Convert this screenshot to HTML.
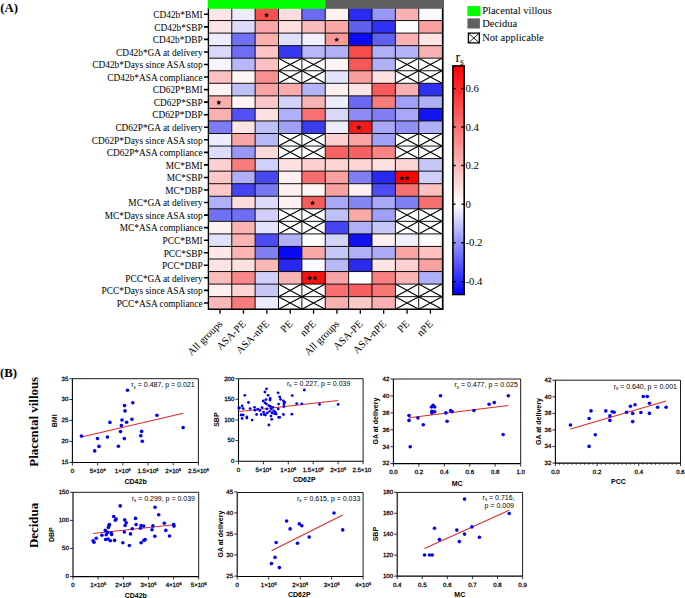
<!DOCTYPE html>
<html><head><meta charset="utf-8"><style>
html,body{margin:0;padding:0;background:#fff;}
body{width:685px;height:598px;overflow:hidden;font-family:"Liberation Sans", sans-serif;}
svg{display:block;}
.tl{text-rendering:geometricPrecision;}
</style></head><body>
<svg width="685" height="598" viewBox="0 0 685 598">
<rect width="685" height="598" fill="#fff"/>
<text x="0.3" y="11.8" font-family='"Liberation Serif", serif' font-weight="bold" font-size="12.8">(A)</text>
<rect x="208.40" y="8.00" width="23.37" height="12.55" fill="#fde6e6"/>
<rect x="231.77" y="8.00" width="23.37" height="12.55" fill="#ececfc"/>
<rect x="255.14" y="8.00" width="23.37" height="12.55" fill="#f84f4f"/>
<rect x="278.51" y="8.00" width="23.37" height="12.55" fill="#fcdcdc"/>
<rect x="301.88" y="8.00" width="23.37" height="12.55" fill="#6a6af5"/>
<rect x="325.25" y="8.00" width="23.37" height="12.55" fill="#fdf0f0"/>
<rect x="348.62" y="8.00" width="23.37" height="12.55" fill="#2a2af0"/>
<rect x="371.99" y="8.00" width="23.37" height="12.55" fill="#9898f8"/>
<rect x="395.36" y="8.00" width="23.37" height="12.55" fill="#f8b0b0"/>
<rect x="418.73" y="8.00" width="23.37" height="12.55" fill="#fafafe"/>
<rect x="208.40" y="20.55" width="23.37" height="12.55" fill="#fde4e4"/>
<rect x="231.77" y="20.55" width="23.37" height="12.55" fill="#dcdcfa"/>
<rect x="255.14" y="20.55" width="23.37" height="12.55" fill="#fba6a6"/>
<rect x="278.51" y="20.55" width="23.37" height="12.55" fill="#fde0e0"/>
<rect x="301.88" y="20.55" width="23.37" height="12.55" fill="#fbbcbc"/>
<rect x="325.25" y="20.55" width="23.37" height="12.55" fill="#f9a8a8"/>
<rect x="348.62" y="20.55" width="23.37" height="12.55" fill="#6060ee"/>
<rect x="371.99" y="20.55" width="23.37" height="12.55" fill="#3030f0"/>
<rect x="395.36" y="20.55" width="23.37" height="12.55" fill="#fefefe"/>
<rect x="418.73" y="20.55" width="23.37" height="12.55" fill="#f9a0a0"/>
<rect x="208.40" y="33.10" width="23.37" height="12.55" fill="#ececfc"/>
<rect x="231.77" y="33.10" width="23.37" height="12.55" fill="#7070f2"/>
<rect x="255.14" y="33.10" width="23.37" height="12.55" fill="#fbb0b0"/>
<rect x="278.51" y="33.10" width="23.37" height="12.55" fill="#e0e0fa"/>
<rect x="301.88" y="33.10" width="23.37" height="12.55" fill="#f0f0fc"/>
<rect x="325.25" y="33.10" width="23.37" height="12.55" fill="#f89898"/>
<rect x="348.62" y="33.10" width="23.37" height="12.55" fill="#0a0af5"/>
<rect x="371.99" y="33.10" width="23.37" height="12.55" fill="#6060f0"/>
<rect x="395.36" y="33.10" width="23.37" height="12.55" fill="#f9b0b0"/>
<rect x="418.73" y="33.10" width="23.37" height="12.55" fill="#fde4e4"/>
<rect x="208.40" y="45.65" width="23.37" height="12.55" fill="#d8d8fa"/>
<rect x="231.77" y="45.65" width="23.37" height="12.55" fill="#6e6ef2"/>
<rect x="255.14" y="45.65" width="23.37" height="12.55" fill="#fcc4c4"/>
<rect x="278.51" y="45.65" width="23.37" height="12.55" fill="#3838f0"/>
<rect x="301.88" y="45.65" width="23.37" height="12.55" fill="#b8b8f8"/>
<rect x="325.25" y="45.65" width="23.37" height="12.55" fill="#b0b0f8"/>
<rect x="348.62" y="45.65" width="23.37" height="12.55" fill="#f84c4c"/>
<rect x="371.99" y="45.65" width="23.37" height="12.55" fill="#b0b0f8"/>
<rect x="395.36" y="45.65" width="23.37" height="12.55" fill="#b4b4f8"/>
<rect x="418.73" y="45.65" width="23.37" height="12.55" fill="#f9b0b0"/>
<rect x="208.40" y="58.20" width="23.37" height="12.55" fill="#f6f6fe"/>
<rect x="231.77" y="58.20" width="23.37" height="12.55" fill="#b8b8f8"/>
<rect x="255.14" y="58.20" width="23.37" height="12.55" fill="#fcc0c0"/>
<rect x="278.51" y="58.20" width="23.37" height="12.55" fill="#fff"/>
<path d="M278.51 58.20L301.88 70.75M301.88 58.20L278.51 70.75" stroke="#000" stroke-width="1.1"/>
<rect x="301.88" y="58.20" width="23.37" height="12.55" fill="#fff"/>
<path d="M301.88 58.20L325.25 70.75M325.25 58.20L301.88 70.75" stroke="#000" stroke-width="1.1"/>
<rect x="325.25" y="58.20" width="23.37" height="12.55" fill="#fef4f4"/>
<rect x="348.62" y="58.20" width="23.37" height="12.55" fill="#f55858"/>
<rect x="371.99" y="58.20" width="23.37" height="12.55" fill="#b0b0f8"/>
<rect x="395.36" y="58.20" width="23.37" height="12.55" fill="#fff"/>
<path d="M395.36 58.20L418.73 70.75M418.73 58.20L395.36 70.75" stroke="#000" stroke-width="1.1"/>
<rect x="418.73" y="58.20" width="23.37" height="12.55" fill="#fff"/>
<path d="M418.73 58.20L442.10 70.75M442.10 58.20L418.73 70.75" stroke="#000" stroke-width="1.1"/>
<rect x="208.40" y="70.75" width="23.37" height="12.55" fill="#fcc0c0"/>
<rect x="231.77" y="70.75" width="23.37" height="12.55" fill="#fef4f4"/>
<rect x="255.14" y="70.75" width="23.37" height="12.55" fill="#f99090"/>
<rect x="278.51" y="70.75" width="23.37" height="12.55" fill="#fff"/>
<path d="M278.51 70.75L301.88 83.30M301.88 70.75L278.51 83.30" stroke="#000" stroke-width="1.1"/>
<rect x="301.88" y="70.75" width="23.37" height="12.55" fill="#fff"/>
<path d="M301.88 70.75L325.25 83.30M325.25 70.75L301.88 83.30" stroke="#000" stroke-width="1.1"/>
<rect x="325.25" y="70.75" width="23.37" height="12.55" fill="#e4e4fc"/>
<rect x="348.62" y="70.75" width="23.37" height="12.55" fill="#f8a0a0"/>
<rect x="371.99" y="70.75" width="23.37" height="12.55" fill="#fde0e0"/>
<rect x="395.36" y="70.75" width="23.37" height="12.55" fill="#fff"/>
<path d="M395.36 70.75L418.73 83.30M418.73 70.75L395.36 83.30" stroke="#000" stroke-width="1.1"/>
<rect x="418.73" y="70.75" width="23.37" height="12.55" fill="#fff"/>
<path d="M418.73 70.75L442.10 83.30M442.10 70.75L418.73 83.30" stroke="#000" stroke-width="1.1"/>
<rect x="208.40" y="83.30" width="23.37" height="12.55" fill="#fef2f2"/>
<rect x="231.77" y="83.30" width="23.37" height="12.55" fill="#c0c0f8"/>
<rect x="255.14" y="83.30" width="23.37" height="12.55" fill="#f9a4a4"/>
<rect x="278.51" y="83.30" width="23.37" height="12.55" fill="#f9acac"/>
<rect x="301.88" y="83.30" width="23.37" height="12.55" fill="#b4b4f8"/>
<rect x="325.25" y="83.30" width="23.37" height="12.55" fill="#fef0f0"/>
<rect x="348.62" y="83.30" width="23.37" height="12.55" fill="#fde4e4"/>
<rect x="371.99" y="83.30" width="23.37" height="12.55" fill="#f65a5a"/>
<rect x="395.36" y="83.30" width="23.37" height="12.55" fill="#f9b0b0"/>
<rect x="418.73" y="83.30" width="23.37" height="12.55" fill="#3030f0"/>
<rect x="208.40" y="95.85" width="23.37" height="12.55" fill="#f9b0b0"/>
<rect x="231.77" y="95.85" width="23.37" height="12.55" fill="#fef4f4"/>
<rect x="255.14" y="95.85" width="23.37" height="12.55" fill="#fcc8c8"/>
<rect x="278.51" y="95.85" width="23.37" height="12.55" fill="#d4d4fa"/>
<rect x="301.88" y="95.85" width="23.37" height="12.55" fill="#fab4b4"/>
<rect x="325.25" y="95.85" width="23.37" height="12.55" fill="#ececfc"/>
<rect x="348.62" y="95.85" width="23.37" height="12.55" fill="#6a6af2"/>
<rect x="371.99" y="95.85" width="23.37" height="12.55" fill="#f77c7c"/>
<rect x="395.36" y="95.85" width="23.37" height="12.55" fill="#a0a0f6"/>
<rect x="418.73" y="95.85" width="23.37" height="12.55" fill="#b0b0f8"/>
<rect x="208.40" y="108.40" width="23.37" height="12.55" fill="#f9b0b0"/>
<rect x="231.77" y="108.40" width="23.37" height="12.55" fill="#5050f4"/>
<rect x="255.14" y="108.40" width="23.37" height="12.55" fill="#fde0e0"/>
<rect x="278.51" y="108.40" width="23.37" height="12.55" fill="#b0b0f8"/>
<rect x="301.88" y="108.40" width="23.37" height="12.55" fill="#f87070"/>
<rect x="325.25" y="108.40" width="23.37" height="12.55" fill="#d8d8fa"/>
<rect x="348.62" y="108.40" width="23.37" height="12.55" fill="#8c8cf4"/>
<rect x="371.99" y="108.40" width="23.37" height="12.55" fill="#8080f4"/>
<rect x="395.36" y="108.40" width="23.37" height="12.55" fill="#a8a8f6"/>
<rect x="418.73" y="108.40" width="23.37" height="12.55" fill="#1414f2"/>
<rect x="208.40" y="120.95" width="23.37" height="12.55" fill="#7c7cf4"/>
<rect x="231.77" y="120.95" width="23.37" height="12.55" fill="#fde4e4"/>
<rect x="255.14" y="120.95" width="23.37" height="12.55" fill="#c0c0f8"/>
<rect x="278.51" y="120.95" width="23.37" height="12.55" fill="#a0a0f6"/>
<rect x="301.88" y="120.95" width="23.37" height="12.55" fill="#3c3cf0"/>
<rect x="325.25" y="120.95" width="23.37" height="12.55" fill="#ececfc"/>
<rect x="348.62" y="120.95" width="23.37" height="12.55" fill="#f21c1c"/>
<rect x="371.99" y="120.95" width="23.37" height="12.55" fill="#a8a8f6"/>
<rect x="395.36" y="120.95" width="23.37" height="12.55" fill="#9090f4"/>
<rect x="418.73" y="120.95" width="23.37" height="12.55" fill="#b0b0f8"/>
<rect x="208.40" y="133.50" width="23.37" height="12.55" fill="#ececfc"/>
<rect x="231.77" y="133.50" width="23.37" height="12.55" fill="#f9a4a4"/>
<rect x="255.14" y="133.50" width="23.37" height="12.55" fill="#b8b8f8"/>
<rect x="278.51" y="133.50" width="23.37" height="12.55" fill="#fff"/>
<path d="M278.51 133.50L301.88 146.05M301.88 133.50L278.51 146.05" stroke="#000" stroke-width="1.1"/>
<rect x="301.88" y="133.50" width="23.37" height="12.55" fill="#fff"/>
<path d="M301.88 133.50L325.25 146.05M325.25 133.50L301.88 146.05" stroke="#000" stroke-width="1.1"/>
<rect x="325.25" y="133.50" width="23.37" height="12.55" fill="#fcd0d0"/>
<rect x="348.62" y="133.50" width="23.37" height="12.55" fill="#f9a4a4"/>
<rect x="371.99" y="133.50" width="23.37" height="12.55" fill="#a0a0f6"/>
<rect x="395.36" y="133.50" width="23.37" height="12.55" fill="#fff"/>
<path d="M395.36 133.50L418.73 146.05M418.73 133.50L395.36 146.05" stroke="#000" stroke-width="1.1"/>
<rect x="418.73" y="133.50" width="23.37" height="12.55" fill="#fff"/>
<path d="M418.73 133.50L442.10 146.05M442.10 133.50L418.73 146.05" stroke="#000" stroke-width="1.1"/>
<rect x="208.40" y="146.05" width="23.37" height="12.55" fill="#dcdcfa"/>
<rect x="231.77" y="146.05" width="23.37" height="12.55" fill="#9898f4"/>
<rect x="255.14" y="146.05" width="23.37" height="12.55" fill="#fcd8d8"/>
<rect x="278.51" y="146.05" width="23.37" height="12.55" fill="#fff"/>
<path d="M278.51 146.05L301.88 158.60M301.88 146.05L278.51 158.60" stroke="#000" stroke-width="1.1"/>
<rect x="301.88" y="146.05" width="23.37" height="12.55" fill="#fff"/>
<path d="M301.88 146.05L325.25 158.60M325.25 146.05L301.88 158.60" stroke="#000" stroke-width="1.1"/>
<rect x="325.25" y="146.05" width="23.37" height="12.55" fill="#f96262"/>
<rect x="348.62" y="146.05" width="23.37" height="12.55" fill="#f96262"/>
<rect x="371.99" y="146.05" width="23.37" height="12.55" fill="#f88484"/>
<rect x="395.36" y="146.05" width="23.37" height="12.55" fill="#fff"/>
<path d="M395.36 146.05L418.73 158.60M418.73 146.05L395.36 158.60" stroke="#000" stroke-width="1.1"/>
<rect x="418.73" y="146.05" width="23.37" height="12.55" fill="#fff"/>
<path d="M418.73 146.05L442.10 158.60M442.10 146.05L418.73 158.60" stroke="#000" stroke-width="1.1"/>
<rect x="208.40" y="158.60" width="23.37" height="12.55" fill="#fcd0d0"/>
<rect x="231.77" y="158.60" width="23.37" height="12.55" fill="#f77c7c"/>
<rect x="255.14" y="158.60" width="23.37" height="12.55" fill="#d0d0fa"/>
<rect x="278.51" y="158.60" width="23.37" height="12.55" fill="#fde0e0"/>
<rect x="301.88" y="158.60" width="23.37" height="12.55" fill="#fcd0d0"/>
<rect x="325.25" y="158.60" width="23.37" height="12.55" fill="#fcd4d4"/>
<rect x="348.62" y="158.60" width="23.37" height="12.55" fill="#fcd4d4"/>
<rect x="371.99" y="158.60" width="23.37" height="12.55" fill="#fde0e0"/>
<rect x="395.36" y="158.60" width="23.37" height="12.55" fill="#fcd4d4"/>
<rect x="418.73" y="158.60" width="23.37" height="12.55" fill="#c8c8f8"/>
<rect x="208.40" y="171.15" width="23.37" height="12.55" fill="#fcc8c8"/>
<rect x="231.77" y="171.15" width="23.37" height="12.55" fill="#b0b0f8"/>
<rect x="255.14" y="171.15" width="23.37" height="12.55" fill="#4848f0"/>
<rect x="278.51" y="171.15" width="23.37" height="12.55" fill="#fef0f0"/>
<rect x="301.88" y="171.15" width="23.37" height="12.55" fill="#f86e6e"/>
<rect x="325.25" y="171.15" width="23.37" height="12.55" fill="#f9a0a0"/>
<rect x="348.62" y="171.15" width="23.37" height="12.55" fill="#8080f4"/>
<rect x="371.99" y="171.15" width="23.37" height="12.55" fill="#2828f2"/>
<rect x="395.36" y="171.15" width="23.37" height="12.55" fill="#fe0202"/>
<rect x="418.73" y="171.15" width="23.37" height="12.55" fill="#d0d0fa"/>
<rect x="208.40" y="183.70" width="23.37" height="12.55" fill="#fcc8c8"/>
<rect x="231.77" y="183.70" width="23.37" height="12.55" fill="#4444f0"/>
<rect x="255.14" y="183.70" width="23.37" height="12.55" fill="#7878f2"/>
<rect x="278.51" y="183.70" width="23.37" height="12.55" fill="#fef0f0"/>
<rect x="301.88" y="183.70" width="23.37" height="12.55" fill="#fef4f4"/>
<rect x="325.25" y="183.70" width="23.37" height="12.55" fill="#f9a0a0"/>
<rect x="348.62" y="183.70" width="23.37" height="12.55" fill="#fef0f0"/>
<rect x="371.99" y="183.70" width="23.37" height="12.55" fill="#4c4cf0"/>
<rect x="395.36" y="183.70" width="23.37" height="12.55" fill="#f77070"/>
<rect x="418.73" y="183.70" width="23.37" height="12.55" fill="#fcc0c0"/>
<rect x="208.40" y="196.25" width="23.37" height="12.55" fill="#b0b0f8"/>
<rect x="231.77" y="196.25" width="23.37" height="12.55" fill="#fddcdc"/>
<rect x="255.14" y="196.25" width="23.37" height="12.55" fill="#dcdcfa"/>
<rect x="278.51" y="196.25" width="23.37" height="12.55" fill="#fef0f0"/>
<rect x="301.88" y="196.25" width="23.37" height="12.55" fill="#f65c5c"/>
<rect x="325.25" y="196.25" width="23.37" height="12.55" fill="#a8a8f6"/>
<rect x="348.62" y="196.25" width="23.37" height="12.55" fill="#8484f4"/>
<rect x="371.99" y="196.25" width="23.37" height="12.55" fill="#a8a8f6"/>
<rect x="395.36" y="196.25" width="23.37" height="12.55" fill="#8080f4"/>
<rect x="418.73" y="196.25" width="23.37" height="12.55" fill="#f77070"/>
<rect x="208.40" y="208.80" width="23.37" height="12.55" fill="#7070f4"/>
<rect x="231.77" y="208.80" width="23.37" height="12.55" fill="#6e6ef4"/>
<rect x="255.14" y="208.80" width="23.37" height="12.55" fill="#d0d0fa"/>
<rect x="278.51" y="208.80" width="23.37" height="12.55" fill="#fff"/>
<path d="M278.51 208.80L301.88 221.35M301.88 208.80L278.51 221.35" stroke="#000" stroke-width="1.1"/>
<rect x="301.88" y="208.80" width="23.37" height="12.55" fill="#fff"/>
<path d="M301.88 208.80L325.25 221.35M325.25 208.80L301.88 221.35" stroke="#000" stroke-width="1.1"/>
<rect x="325.25" y="208.80" width="23.37" height="12.55" fill="#c0c0f8"/>
<rect x="348.62" y="208.80" width="23.37" height="12.55" fill="#f9a8a8"/>
<rect x="371.99" y="208.80" width="23.37" height="12.55" fill="#a0a0f6"/>
<rect x="395.36" y="208.80" width="23.37" height="12.55" fill="#fff"/>
<path d="M395.36 208.80L418.73 221.35M418.73 208.80L395.36 221.35" stroke="#000" stroke-width="1.1"/>
<rect x="418.73" y="208.80" width="23.37" height="12.55" fill="#fff"/>
<path d="M418.73 208.80L442.10 221.35M442.10 208.80L418.73 221.35" stroke="#000" stroke-width="1.1"/>
<rect x="208.40" y="221.35" width="23.37" height="12.55" fill="#fef0f0"/>
<rect x="231.77" y="221.35" width="23.37" height="12.55" fill="#fab4b4"/>
<rect x="255.14" y="221.35" width="23.37" height="12.55" fill="#e4e4fc"/>
<rect x="278.51" y="221.35" width="23.37" height="12.55" fill="#fff"/>
<path d="M278.51 221.35L301.88 233.90M301.88 221.35L278.51 233.90" stroke="#000" stroke-width="1.1"/>
<rect x="301.88" y="221.35" width="23.37" height="12.55" fill="#fff"/>
<path d="M301.88 221.35L325.25 233.90M325.25 221.35L301.88 233.90" stroke="#000" stroke-width="1.1"/>
<rect x="325.25" y="221.35" width="23.37" height="12.55" fill="#4444f0"/>
<rect x="348.62" y="221.35" width="23.37" height="12.55" fill="#b0b0f8"/>
<rect x="371.99" y="221.35" width="23.37" height="12.55" fill="#c8c8f8"/>
<rect x="395.36" y="221.35" width="23.37" height="12.55" fill="#fff"/>
<path d="M395.36 221.35L418.73 233.90M418.73 221.35L395.36 233.90" stroke="#000" stroke-width="1.1"/>
<rect x="418.73" y="221.35" width="23.37" height="12.55" fill="#fff"/>
<path d="M418.73 221.35L442.10 233.90M442.10 221.35L418.73 233.90" stroke="#000" stroke-width="1.1"/>
<rect x="208.40" y="233.90" width="23.37" height="12.55" fill="#e0e0fa"/>
<rect x="231.77" y="233.90" width="23.37" height="12.55" fill="#fbb4b4"/>
<rect x="255.14" y="233.90" width="23.37" height="12.55" fill="#4c4cf4"/>
<rect x="278.51" y="233.90" width="23.37" height="12.55" fill="#b0b0f8"/>
<rect x="301.88" y="233.90" width="23.37" height="12.55" fill="#ffffff"/>
<rect x="325.25" y="233.90" width="23.37" height="12.55" fill="#d4d4fa"/>
<rect x="348.62" y="233.90" width="23.37" height="12.55" fill="#1010f2"/>
<rect x="371.99" y="233.90" width="23.37" height="12.55" fill="#fef0f0"/>
<rect x="395.36" y="233.90" width="23.37" height="12.55" fill="#f0f0fc"/>
<rect x="418.73" y="233.90" width="23.37" height="12.55" fill="#fefafa"/>
<rect x="208.40" y="246.45" width="23.37" height="12.55" fill="#fde8e8"/>
<rect x="231.77" y="246.45" width="23.37" height="12.55" fill="#fbb4b4"/>
<rect x="255.14" y="246.45" width="23.37" height="12.55" fill="#8080f4"/>
<rect x="278.51" y="246.45" width="23.37" height="12.55" fill="#0808f5"/>
<rect x="301.88" y="246.45" width="23.37" height="12.55" fill="#fba8a8"/>
<rect x="325.25" y="246.45" width="23.37" height="12.55" fill="#c8c8f8"/>
<rect x="348.62" y="246.45" width="23.37" height="12.55" fill="#b0b0f8"/>
<rect x="371.99" y="246.45" width="23.37" height="12.55" fill="#acacf8"/>
<rect x="395.36" y="246.45" width="23.37" height="12.55" fill="#f9a4a4"/>
<rect x="418.73" y="246.45" width="23.37" height="12.55" fill="#fcc0c0"/>
<rect x="208.40" y="259.00" width="23.37" height="12.55" fill="#fde4e4"/>
<rect x="231.77" y="259.00" width="23.37" height="12.55" fill="#fde0e0"/>
<rect x="255.14" y="259.00" width="23.37" height="12.55" fill="#fbb8b8"/>
<rect x="278.51" y="259.00" width="23.37" height="12.55" fill="#2828f2"/>
<rect x="301.88" y="259.00" width="23.37" height="12.55" fill="#f8f8fe"/>
<rect x="325.25" y="259.00" width="23.37" height="12.55" fill="#b8b8f8"/>
<rect x="348.62" y="259.00" width="23.37" height="12.55" fill="#2c2cf0"/>
<rect x="371.99" y="259.00" width="23.37" height="12.55" fill="#fde4e4"/>
<rect x="395.36" y="259.00" width="23.37" height="12.55" fill="#fcd0d0"/>
<rect x="418.73" y="259.00" width="23.37" height="12.55" fill="#f9a0a0"/>
<rect x="208.40" y="271.55" width="23.37" height="12.55" fill="#fbbcbc"/>
<rect x="231.77" y="271.55" width="23.37" height="12.55" fill="#f88888"/>
<rect x="255.14" y="271.55" width="23.37" height="12.55" fill="#d0d0fa"/>
<rect x="278.51" y="271.55" width="23.37" height="12.55" fill="#fbb4b4"/>
<rect x="301.88" y="271.55" width="23.37" height="12.55" fill="#f41414"/>
<rect x="325.25" y="271.55" width="23.37" height="12.55" fill="#f9a4a4"/>
<rect x="348.62" y="271.55" width="23.37" height="12.55" fill="#ffffff"/>
<rect x="371.99" y="271.55" width="23.37" height="12.55" fill="#f78080"/>
<rect x="395.36" y="271.55" width="23.37" height="12.55" fill="#fbb4b4"/>
<rect x="418.73" y="271.55" width="23.37" height="12.55" fill="#b0b0f8"/>
<rect x="208.40" y="284.10" width="23.37" height="12.55" fill="#fef0f0"/>
<rect x="231.77" y="284.10" width="23.37" height="12.55" fill="#fcd4d4"/>
<rect x="255.14" y="284.10" width="23.37" height="12.55" fill="#c8c8f8"/>
<rect x="278.51" y="284.10" width="23.37" height="12.55" fill="#fff"/>
<path d="M278.51 284.10L301.88 296.65M301.88 284.10L278.51 296.65" stroke="#000" stroke-width="1.1"/>
<rect x="301.88" y="284.10" width="23.37" height="12.55" fill="#fff"/>
<path d="M301.88 284.10L325.25 296.65M325.25 284.10L301.88 296.65" stroke="#000" stroke-width="1.1"/>
<rect x="325.25" y="284.10" width="23.37" height="12.55" fill="#f86e6e"/>
<rect x="348.62" y="284.10" width="23.37" height="12.55" fill="#f86060"/>
<rect x="371.99" y="284.10" width="23.37" height="12.55" fill="#f87676"/>
<rect x="395.36" y="284.10" width="23.37" height="12.55" fill="#fff"/>
<path d="M395.36 284.10L418.73 296.65M418.73 284.10L395.36 296.65" stroke="#000" stroke-width="1.1"/>
<rect x="418.73" y="284.10" width="23.37" height="12.55" fill="#fff"/>
<path d="M418.73 284.10L442.10 296.65M442.10 284.10L418.73 296.65" stroke="#000" stroke-width="1.1"/>
<rect x="208.40" y="296.65" width="23.37" height="12.55" fill="#fbb8b8"/>
<rect x="231.77" y="296.65" width="23.37" height="12.55" fill="#f77c7c"/>
<rect x="255.14" y="296.65" width="23.37" height="12.55" fill="#ececfc"/>
<rect x="278.51" y="296.65" width="23.37" height="12.55" fill="#fff"/>
<path d="M278.51 296.65L301.88 309.20M301.88 296.65L278.51 309.20" stroke="#000" stroke-width="1.1"/>
<rect x="301.88" y="296.65" width="23.37" height="12.55" fill="#fff"/>
<path d="M301.88 296.65L325.25 309.20M325.25 296.65L301.88 309.20" stroke="#000" stroke-width="1.1"/>
<rect x="325.25" y="296.65" width="23.37" height="12.55" fill="#fbb0b0"/>
<rect x="348.62" y="296.65" width="23.37" height="12.55" fill="#fcc8c8"/>
<rect x="371.99" y="296.65" width="23.37" height="12.55" fill="#fab0b0"/>
<rect x="395.36" y="296.65" width="23.37" height="12.55" fill="#fff"/>
<path d="M395.36 296.65L418.73 309.20M418.73 296.65L395.36 309.20" stroke="#000" stroke-width="1.1"/>
<rect x="418.73" y="296.65" width="23.37" height="12.55" fill="#fff"/>
<path d="M418.73 296.65L442.10 309.20M442.10 296.65L418.73 309.20" stroke="#000" stroke-width="1.1"/>
<path d="M208.40 20.55H442.10M208.40 33.10H442.10M208.40 45.65H442.10M208.40 58.20H442.10M208.40 70.75H442.10M208.40 83.30H442.10M208.40 95.85H442.10M208.40 108.40H442.10M208.40 120.95H442.10M208.40 133.50H442.10M208.40 146.05H442.10M208.40 158.60H442.10M208.40 171.15H442.10M208.40 183.70H442.10M208.40 196.25H442.10M208.40 208.80H442.10M208.40 221.35H442.10M208.40 233.90H442.10M208.40 246.45H442.10M208.40 259.00H442.10M208.40 271.55H442.10M208.40 284.10H442.10M208.40 296.65H442.10M231.77 8.00V309.20M255.14 8.00V309.20M278.51 8.00V309.20M301.88 8.00V309.20M325.25 8.00V309.20M348.62 8.00V309.20M371.99 8.00V309.20M395.36 8.00V309.20M418.73 8.00V309.20" stroke="#000" stroke-width="0.95" fill="none"/>
<path d="M208.40 8.00V309.20H442.10" stroke="#000" stroke-width="1.35" fill="none"/>
<path d="M442.75 8.00V309.90" stroke="#000" stroke-width="1.7" fill="none"/>
<polygon points="266.50,12.54 267.26,14.04 268.93,14.30 267.74,15.49 268.00,17.15 266.50,16.39 265.00,17.15 265.26,15.49 264.07,14.30 265.74,14.04" fill="#000"/>
<polygon points="336.70,37.19 337.46,38.69 339.13,38.95 337.94,40.14 338.20,41.80 336.70,41.04 335.20,41.80 335.46,40.14 334.27,38.95 335.94,38.69" fill="#000"/>
<polygon points="218.80,100.09 219.56,101.59 221.23,101.85 220.04,103.04 220.30,104.70 218.80,103.94 217.30,104.70 217.56,103.04 216.37,101.85 218.04,101.59" fill="#000"/>
<polygon points="358.90,125.09 359.66,126.59 361.33,126.85 360.14,128.04 360.40,129.70 358.90,128.94 357.40,129.70 357.66,128.04 356.47,126.85 358.14,126.59" fill="#000"/>
<polygon points="401.90,175.59 402.66,177.09 404.33,177.35 403.14,178.54 403.40,180.20 401.90,179.44 400.40,180.20 400.66,178.54 399.47,177.35 401.14,177.09" fill="#000"/>
<polygon points="407.00,175.59 407.76,177.09 409.43,177.35 408.24,178.54 408.50,180.20 407.00,179.44 405.50,180.20 405.76,178.54 404.57,177.35 406.24,177.09" fill="#000"/>
<polygon points="312.60,200.39 313.36,201.89 315.03,202.15 313.84,203.34 314.10,205.00 312.60,204.24 311.10,205.00 311.36,203.34 310.17,202.15 311.84,201.89" fill="#000"/>
<polygon points="309.70,275.49 310.46,276.99 312.13,277.25 310.94,278.44 311.20,280.10 309.70,279.34 308.20,280.10 308.46,278.44 307.27,277.25 308.94,276.99" fill="#000"/>
<polygon points="315.00,275.39 315.76,276.89 317.43,277.15 316.24,278.34 316.50,280.00 315.00,279.24 313.50,280.00 313.76,278.34 312.57,277.15 314.24,276.89" fill="#000"/>
<rect x="207.7" y="0" width="117.50" height="8.8" fill="#00ff00"/>
<rect x="325.2" y="0" width="118.80" height="8.8" fill="#606060"/>
<text x="202.6" y="18.07" font-family='"Liberation Serif", serif' font-size="9.35" text-anchor="end">CD42b*BMI</text>
<text x="202.6" y="30.63" font-family='"Liberation Serif", serif' font-size="9.35" text-anchor="end">CD42b*SBP</text>
<text x="202.6" y="43.17" font-family='"Liberation Serif", serif' font-size="9.35" text-anchor="end">CD42b*DBP</text>
<text x="202.6" y="55.73" font-family='"Liberation Serif", serif' font-size="9.35" text-anchor="end">CD42b*GA at delivery</text>
<text x="202.6" y="68.28" font-family='"Liberation Serif", serif' font-size="9.35" text-anchor="end">CD42b*Days since ASA stop</text>
<text x="202.6" y="80.83" font-family='"Liberation Serif", serif' font-size="9.35" text-anchor="end">CD42b*ASA compliance</text>
<text x="202.6" y="93.38" font-family='"Liberation Serif", serif' font-size="9.35" text-anchor="end">CD62P*BMI</text>
<text x="202.6" y="105.93" font-family='"Liberation Serif", serif' font-size="9.35" text-anchor="end">CD62P*SBP</text>
<text x="202.6" y="118.48" font-family='"Liberation Serif", serif' font-size="9.35" text-anchor="end">CD62P*DBP</text>
<text x="202.6" y="131.03" font-family='"Liberation Serif", serif' font-size="9.35" text-anchor="end">CD62P*GA at delivery</text>
<text x="202.6" y="143.58" font-family='"Liberation Serif", serif' font-size="9.35" text-anchor="end">CD62P*Days since ASA stop</text>
<text x="202.6" y="156.13" font-family='"Liberation Serif", serif' font-size="9.35" text-anchor="end">CD62P*ASA compliance</text>
<text x="202.6" y="168.68" font-family='"Liberation Serif", serif' font-size="9.35" text-anchor="end">MC*BMI</text>
<text x="202.6" y="181.23" font-family='"Liberation Serif", serif' font-size="9.35" text-anchor="end">MC*SBP</text>
<text x="202.6" y="193.78" font-family='"Liberation Serif", serif' font-size="9.35" text-anchor="end">MC*DBP</text>
<text x="202.6" y="206.33" font-family='"Liberation Serif", serif' font-size="9.35" text-anchor="end">MC*GA at delivery</text>
<text x="202.6" y="218.88" font-family='"Liberation Serif", serif' font-size="9.35" text-anchor="end">MC*Days since ASA stop</text>
<text x="202.6" y="231.43" font-family='"Liberation Serif", serif' font-size="9.35" text-anchor="end">MC*ASA compliance</text>
<text x="202.6" y="243.98" font-family='"Liberation Serif", serif' font-size="9.35" text-anchor="end">PCC*BMI</text>
<text x="202.6" y="256.53" font-family='"Liberation Serif", serif' font-size="9.35" text-anchor="end">PCC*SBP</text>
<text x="202.6" y="269.07" font-family='"Liberation Serif", serif' font-size="9.35" text-anchor="end">PCC*DBP</text>
<text x="202.6" y="281.62" font-family='"Liberation Serif", serif' font-size="9.35" text-anchor="end">PCC*GA at delivery</text>
<text x="202.6" y="294.18" font-family='"Liberation Serif", serif' font-size="9.35" text-anchor="end">PCC*Days since ASA stop</text>
<text x="202.6" y="306.73" font-family='"Liberation Serif", serif' font-size="9.35" text-anchor="end">PCC*ASA compliance</text>
<text transform="translate(223.09,324.5) rotate(-45)" font-family='"Liberation Serif", serif' font-size="10.5" text-anchor="end">All groups</text>
<text transform="translate(246.46,324.5) rotate(-45)" font-family='"Liberation Serif", serif' font-size="10.5" text-anchor="end">ASA-PE</text>
<text transform="translate(269.82,324.5) rotate(-45)" font-family='"Liberation Serif", serif' font-size="10.5" text-anchor="end">ASA-nPE</text>
<text transform="translate(293.19,324.5) rotate(-45)" font-family='"Liberation Serif", serif' font-size="10.5" text-anchor="end">PE</text>
<text transform="translate(316.56,324.5) rotate(-45)" font-family='"Liberation Serif", serif' font-size="10.5" text-anchor="end">nPE</text>
<text transform="translate(339.94,324.5) rotate(-45)" font-family='"Liberation Serif", serif' font-size="10.5" text-anchor="end">All groups</text>
<text transform="translate(363.31,324.5) rotate(-45)" font-family='"Liberation Serif", serif' font-size="10.5" text-anchor="end">ASA-PE</text>
<text transform="translate(386.68,324.5) rotate(-45)" font-family='"Liberation Serif", serif' font-size="10.5" text-anchor="end">ASA-nPE</text>
<text transform="translate(410.05,324.5) rotate(-45)" font-family='"Liberation Serif", serif' font-size="10.5" text-anchor="end">PE</text>
<text transform="translate(433.42,324.5) rotate(-45)" font-family='"Liberation Serif", serif' font-size="10.5" text-anchor="end">nPE</text>
<path d="M204.0 14.28H208.40M204.0 26.83H208.40M204.0 39.38H208.40M204.0 51.93H208.40M204.0 64.48H208.40M204.0 77.03H208.40M204.0 89.58H208.40M204.0 102.13H208.40M204.0 114.68H208.40M204.0 127.23H208.40M204.0 139.78H208.40M204.0 152.33H208.40M204.0 164.88H208.40M204.0 177.43H208.40M204.0 189.98H208.40M204.0 202.53H208.40M204.0 215.08H208.40M204.0 227.63H208.40M204.0 240.18H208.40M204.0 252.73H208.40M204.0 265.27H208.40M204.0 277.82H208.40M204.0 290.38H208.40M204.0 302.93H208.40" stroke="#000" stroke-width="1.6" fill="none"/>
<path d="M220.09 309.20V313.70M243.46 309.20V313.70M266.82 309.20V313.70M290.19 309.20V313.70M313.56 309.20V313.70M336.94 309.20V313.70M360.31 309.20V313.70M383.68 309.20V313.70M407.05 309.20V313.70M430.42 309.20V313.70" stroke="#000" stroke-width="1.3" fill="none"/>
<rect x="467.4" y="6.1" width="13" height="10" fill="#00ff00"/>
<rect x="467.4" y="18.4" width="12.5" height="10.1" fill="#606060"/>
<rect x="468.4" y="33.1" width="10.9" height="9.8" fill="#fff" stroke="#000" stroke-width="1.3"/>
<path d="M468.4 33.1L479.3 42.9M479.3 33.1L468.4 42.9" stroke="#000" stroke-width="0.9"/>
<text x="482.2" y="13.6" font-family='"Liberation Serif", serif' font-size="10.5">Placental villous</text>
<text x="482.2" y="26.5" font-family='"Liberation Serif", serif' font-size="10.5">Decidua</text>
<text x="482.2" y="41.2" font-family='"Liberation Serif", serif' font-size="10.5">Not applicable</text>
<defs><linearGradient id="cb" x1="0" y1="0" x2="0" y2="1"><stop offset="0" stop-color="#ff0000"/><stop offset="0.604" stop-color="#ffffff"/><stop offset="1" stop-color="#0000ff"/></linearGradient></defs>
<rect x="452.9" y="65.9" width="11.3" height="228.6" fill="url(#cb)" stroke="#000" stroke-width="1.6"/>
<text x="455.4" y="62.0" font-family='"Liberation Serif", serif' font-size="14">r<tspan font-size="9.5" dy="2.8">s</tspan></text>
<text x="465.4" y="92.10" font-family='"Liberation Serif", serif' font-size="10.8">0.6</text>
<text x="465.4" y="130.50" font-family='"Liberation Serif", serif' font-size="10.8">0.4</text>
<text x="465.4" y="169.00" font-family='"Liberation Serif", serif' font-size="10.8">0.2</text>
<text x="465.4" y="207.60" font-family='"Liberation Serif", serif' font-size="10.8">0</text>
<text x="465.4" y="246.30" font-family='"Liberation Serif", serif' font-size="10.8">-0.2</text>
<text x="465.4" y="285.10" font-family='"Liberation Serif", serif' font-size="10.8">-0.4</text>
<path d="M452.6 88.60h3M464.3 88.60h-3M452.6 127.00h3M464.3 127.00h-3M452.6 165.50h3M464.3 165.50h-3M452.6 204.10h3M464.3 204.10h-3M452.6 242.80h3M464.3 242.80h-3M452.6 281.60h3M464.3 281.60h-3" stroke="#000" stroke-width="1.4"/>
<text x="0" y="376.7" font-family='"Liberation Serif", serif' font-weight="bold" font-size="12.8">(B)</text>
<text transform="translate(38.1,421.8) rotate(-90)" text-anchor="middle" font-family='"Liberation Serif", serif' font-weight="bold" font-size="12.9">Placental villous</text>
<text transform="translate(37.7,525.4) rotate(-90)" text-anchor="middle" font-family='"Liberation Serif", serif' font-weight="bold" font-size="12.9">Decidua</text>
<path d="M72.4 378.7H198.4V462.5" stroke="#000" stroke-width="0.9" fill="none"/>
<path d="M72.4 378.7V462.5H198.4" stroke="#000" stroke-width="1.1" fill="none"/>
<text x="68.30" y="380.50" font-family='"Liberation Sans", sans-serif' font-size="6.1" stroke="#000" stroke-width="0.25" class="tl" text-anchor="end">35</text>
<text x="68.30" y="401.30" font-family='"Liberation Sans", sans-serif' font-size="6.1" stroke="#000" stroke-width="0.25" class="tl" text-anchor="end">30</text>
<text x="68.30" y="422.20" font-family='"Liberation Sans", sans-serif' font-size="6.1" stroke="#000" stroke-width="0.25" class="tl" text-anchor="end">25</text>
<text x="68.30" y="443.20" font-family='"Liberation Sans", sans-serif' font-size="6.1" stroke="#000" stroke-width="0.25" class="tl" text-anchor="end">20</text>
<text x="68.30" y="464.30" font-family='"Liberation Sans", sans-serif' font-size="6.1" stroke="#000" stroke-width="0.25" class="tl" text-anchor="end">15</text>
<text x="72.40" y="473.10" font-family='"Liberation Sans", sans-serif' font-size="6.1" stroke="#000" stroke-width="0.25" class="tl" text-anchor="middle">0</text>
<text x="97.60" y="473.10" font-family='"Liberation Sans", sans-serif' font-size="6.1" stroke="#000" stroke-width="0.25" class="tl" text-anchor="middle">5×10<tspan font-size="3.8" dy="-1.9">4</tspan></text>
<text x="122.80" y="473.10" font-family='"Liberation Sans", sans-serif' font-size="6.1" stroke="#000" stroke-width="0.25" class="tl" text-anchor="middle">1×10<tspan font-size="3.8" dy="-1.9">5</tspan></text>
<text x="148.00" y="473.10" font-family='"Liberation Sans", sans-serif' font-size="6.1" stroke="#000" stroke-width="0.25" class="tl" text-anchor="middle">1.5×10<tspan font-size="3.8" dy="-1.9">5</tspan></text>
<text x="173.20" y="473.10" font-family='"Liberation Sans", sans-serif' font-size="6.1" stroke="#000" stroke-width="0.25" class="tl" text-anchor="middle">2×10<tspan font-size="3.8" dy="-1.9">5</tspan></text>
<text x="198.40" y="473.10" font-family='"Liberation Sans", sans-serif' font-size="6.1" stroke="#000" stroke-width="0.25" class="tl" text-anchor="middle">2.5×10<tspan font-size="3.8" dy="-1.9">5</tspan></text>
<path d="M69.40 378.70H72.4M69.40 399.50H72.4M69.40 420.40H72.4M69.40 441.40H72.4M69.40 462.50H72.4M72.40 462.5V465.50M97.60 462.5V465.50M122.80 462.5V465.50M148.00 462.5V465.50M173.20 462.5V465.50M198.40 462.5V465.50" stroke="#000" stroke-width="0.8"/>
<line x1="81.4" y1="437.1" x2="183.1" y2="413.3" stroke="#dc2a2a" stroke-width="1.05"/>
<circle cx="81.4" cy="436.1" r="1.8" fill="#0000f0"/>
<circle cx="94.7" cy="450.9" r="1.8" fill="#0000f0"/>
<circle cx="97.5" cy="438.6" r="1.8" fill="#0000f0"/>
<circle cx="99.0" cy="446.4" r="1.8" fill="#0000f0"/>
<circle cx="107.4" cy="437.1" r="1.8" fill="#0000f0"/>
<circle cx="109.9" cy="422.4" r="1.8" fill="#0000f0"/>
<circle cx="118.4" cy="446.2" r="1.8" fill="#0000f0"/>
<circle cx="120.5" cy="431.6" r="1.8" fill="#0000f0"/>
<circle cx="121.4" cy="425.5" r="1.8" fill="#0000f0"/>
<circle cx="122.0" cy="420.0" r="1.8" fill="#0000f0"/>
<circle cx="124.3" cy="438.6" r="1.8" fill="#0000f0"/>
<circle cx="124.5" cy="405.6" r="1.8" fill="#0000f0"/>
<circle cx="125.0" cy="410.9" r="1.8" fill="#0000f0"/>
<circle cx="126.6" cy="422.3" r="1.8" fill="#0000f0"/>
<circle cx="127.5" cy="390.2" r="1.8" fill="#0000f0"/>
<circle cx="131.9" cy="419.2" r="1.8" fill="#0000f0"/>
<circle cx="132.8" cy="402.7" r="1.8" fill="#0000f0"/>
<circle cx="140.8" cy="435.7" r="1.8" fill="#0000f0"/>
<circle cx="141.6" cy="431.4" r="1.8" fill="#0000f0"/>
<circle cx="142.3" cy="441.2" r="1.8" fill="#0000f0"/>
<circle cx="156.9" cy="415.2" r="1.8" fill="#0000f0"/>
<circle cx="183.1" cy="427.6" r="1.8" fill="#0000f0"/>
<text x="135.60" y="483.70" font-family='"Liberation Sans", sans-serif' font-weight="bold" font-size="7" text-anchor="middle">CD42b</text>
<text transform="translate(57.20,420.80) rotate(-90)" font-family='"Liberation Sans", sans-serif' font-weight="bold" font-size="7" text-anchor="middle">BMI</text>
<text x="194.60" y="387.40" font-family='"Liberation Sans", sans-serif' font-size="7" text-anchor="end">r<tspan font-size="4.5" dy="1.5">s</tspan><tspan dy="-1.5"> = 0.487, p = 0.021</tspan></text>
<path d="M238.5 378.7H363.1V461.3" stroke="#000" stroke-width="0.9" fill="none"/>
<path d="M238.5 378.7V461.3H363.1" stroke="#000" stroke-width="1.1" fill="none"/>
<text x="234.40" y="380.50" font-family='"Liberation Sans", sans-serif' font-size="6.1" stroke="#000" stroke-width="0.25" class="tl" text-anchor="end">200</text>
<text x="234.40" y="401.10" font-family='"Liberation Sans", sans-serif' font-size="6.1" stroke="#000" stroke-width="0.25" class="tl" text-anchor="end">150</text>
<text x="234.40" y="421.70" font-family='"Liberation Sans", sans-serif' font-size="6.1" stroke="#000" stroke-width="0.25" class="tl" text-anchor="end">100</text>
<text x="234.40" y="442.40" font-family='"Liberation Sans", sans-serif' font-size="6.1" stroke="#000" stroke-width="0.25" class="tl" text-anchor="end">50</text>
<text x="234.40" y="463.10" font-family='"Liberation Sans", sans-serif' font-size="6.1" stroke="#000" stroke-width="0.25" class="tl" text-anchor="end">0</text>
<text x="238.50" y="471.90" font-family='"Liberation Sans", sans-serif' font-size="6.1" stroke="#000" stroke-width="0.25" class="tl" text-anchor="middle">0</text>
<text x="263.40" y="471.90" font-family='"Liberation Sans", sans-serif' font-size="6.1" stroke="#000" stroke-width="0.25" class="tl" text-anchor="middle">5×10<tspan font-size="3.8" dy="-1.9">4</tspan></text>
<text x="288.30" y="471.90" font-family='"Liberation Sans", sans-serif' font-size="6.1" stroke="#000" stroke-width="0.25" class="tl" text-anchor="middle">1×10<tspan font-size="3.8" dy="-1.9">5</tspan></text>
<text x="313.20" y="471.90" font-family='"Liberation Sans", sans-serif' font-size="6.1" stroke="#000" stroke-width="0.25" class="tl" text-anchor="middle">1.5×10<tspan font-size="3.8" dy="-1.9">5</tspan></text>
<text x="338.10" y="471.90" font-family='"Liberation Sans", sans-serif' font-size="6.1" stroke="#000" stroke-width="0.25" class="tl" text-anchor="middle">2×10<tspan font-size="3.8" dy="-1.9">5</tspan></text>
<text x="361.80" y="471.90" font-family='"Liberation Sans", sans-serif' font-size="6.1" stroke="#000" stroke-width="0.25" class="tl" text-anchor="middle">2.5×10</text>
<path d="M235.50 378.70H238.5M235.50 399.30H238.5M235.50 419.90H238.5M235.50 440.60H238.5M235.50 461.30H238.5M238.50 461.3V464.30M263.40 461.3V464.30M288.30 461.3V464.30M313.20 461.3V464.30M338.10 461.3V464.30M363.10 461.3V464.30" stroke="#000" stroke-width="0.8"/>
<line x1="239.2" y1="411.6" x2="338.0" y2="400.4" stroke="#dc2a2a" stroke-width="1.05"/>
<circle cx="239.5" cy="408.1" r="1.4" fill="#0000f0"/>
<circle cx="242.1" cy="406.0" r="1.4" fill="#0000f0"/>
<circle cx="243.2" cy="408.6" r="1.4" fill="#0000f0"/>
<circle cx="241.1" cy="415.0" r="1.4" fill="#0000f0"/>
<circle cx="243.2" cy="415.0" r="1.4" fill="#0000f0"/>
<circle cx="242.1" cy="418.5" r="1.4" fill="#0000f0"/>
<circle cx="244.8" cy="395.3" r="1.4" fill="#0000f0"/>
<circle cx="246.8" cy="416.9" r="1.4" fill="#0000f0"/>
<circle cx="246.9" cy="418.1" r="1.4" fill="#0000f0"/>
<circle cx="248.5" cy="402.5" r="1.4" fill="#0000f0"/>
<circle cx="250.1" cy="408.6" r="1.4" fill="#0000f0"/>
<circle cx="252.1" cy="420.1" r="1.4" fill="#0000f0"/>
<circle cx="254.5" cy="407.3" r="1.4" fill="#0000f0"/>
<circle cx="255.0" cy="410.2" r="1.4" fill="#0000f0"/>
<circle cx="256.6" cy="414.5" r="1.4" fill="#0000f0"/>
<circle cx="257.7" cy="409.2" r="1.4" fill="#0000f0"/>
<circle cx="259.8" cy="410.5" r="1.4" fill="#0000f0"/>
<circle cx="261.2" cy="414.5" r="1.4" fill="#0000f0"/>
<circle cx="262.0" cy="407.6" r="1.4" fill="#0000f0"/>
<circle cx="263.3" cy="400.9" r="1.4" fill="#0000f0"/>
<circle cx="263.6" cy="412.1" r="1.4" fill="#0000f0"/>
<circle cx="264.1" cy="414.5" r="1.4" fill="#0000f0"/>
<circle cx="264.9" cy="392.0" r="1.4" fill="#0000f0"/>
<circle cx="264.9" cy="402.8" r="1.4" fill="#0000f0"/>
<circle cx="265.4" cy="415.0" r="1.4" fill="#0000f0"/>
<circle cx="266.0" cy="399.6" r="1.4" fill="#0000f0"/>
<circle cx="266.5" cy="388.8" r="1.4" fill="#0000f0"/>
<circle cx="266.5" cy="404.1" r="1.4" fill="#0000f0"/>
<circle cx="266.8" cy="408.9" r="1.4" fill="#0000f0"/>
<circle cx="267.3" cy="412.9" r="1.4" fill="#0000f0"/>
<circle cx="268.1" cy="395.3" r="1.4" fill="#0000f0"/>
<circle cx="268.9" cy="405.7" r="1.4" fill="#0000f0"/>
<circle cx="268.9" cy="425.0" r="1.4" fill="#0000f0"/>
<circle cx="269.7" cy="411.3" r="1.4" fill="#0000f0"/>
<circle cx="270.0" cy="400.1" r="1.4" fill="#0000f0"/>
<circle cx="270.2" cy="398.5" r="1.4" fill="#0000f0"/>
<circle cx="270.5" cy="406.5" r="1.4" fill="#0000f0"/>
<circle cx="271.0" cy="416.1" r="1.4" fill="#0000f0"/>
<circle cx="271.3" cy="408.9" r="1.4" fill="#0000f0"/>
<circle cx="271.7" cy="419.3" r="1.4" fill="#0000f0"/>
<circle cx="272.1" cy="412.9" r="1.4" fill="#0000f0"/>
<circle cx="272.9" cy="407.3" r="1.4" fill="#0000f0"/>
<circle cx="273.7" cy="410.8" r="1.4" fill="#0000f0"/>
<circle cx="274.5" cy="413.7" r="1.4" fill="#0000f0"/>
<circle cx="275.3" cy="412.1" r="1.4" fill="#0000f0"/>
<circle cx="276.1" cy="414.0" r="1.4" fill="#0000f0"/>
<circle cx="278.1" cy="392.8" r="1.4" fill="#0000f0"/>
<circle cx="278.2" cy="408.9" r="1.4" fill="#0000f0"/>
<circle cx="278.6" cy="404.1" r="1.4" fill="#0000f0"/>
<circle cx="278.6" cy="417.3" r="1.4" fill="#0000f0"/>
<circle cx="279.7" cy="417.3" r="1.4" fill="#0000f0"/>
<circle cx="279.7" cy="396.9" r="1.4" fill="#0000f0"/>
<circle cx="280.5" cy="399.3" r="1.4" fill="#0000f0"/>
<circle cx="283.4" cy="400.9" r="1.4" fill="#0000f0"/>
<circle cx="283.4" cy="414.5" r="1.4" fill="#0000f0"/>
<circle cx="283.9" cy="403.8" r="1.4" fill="#0000f0"/>
<circle cx="283.9" cy="406.5" r="1.4" fill="#0000f0"/>
<circle cx="284.7" cy="402.5" r="1.4" fill="#0000f0"/>
<circle cx="292.2" cy="395.6" r="1.4" fill="#0000f0"/>
<circle cx="291.9" cy="414.2" r="1.4" fill="#0000f0"/>
<circle cx="296.7" cy="403.6" r="1.4" fill="#0000f0"/>
<circle cx="301.8" cy="403.8" r="1.4" fill="#0000f0"/>
<circle cx="304.3" cy="390.0" r="1.4" fill="#0000f0"/>
<circle cx="319.5" cy="404.4" r="1.4" fill="#0000f0"/>
<circle cx="338.1" cy="404.4" r="1.4" fill="#0000f0"/>
<circle cx="238.8" cy="408.0" r="1.4" fill="#0000f0"/>
<text x="304.30" y="482.20" font-family='"Liberation Sans", sans-serif' font-weight="bold" font-size="7" text-anchor="middle">CD62P</text>
<text transform="translate(219.20,419.60) rotate(-90)" font-family='"Liberation Sans", sans-serif' font-weight="bold" font-size="7" text-anchor="middle">SBP</text>
<text x="350.40" y="385.60" font-family='"Liberation Sans", sans-serif' font-size="7" text-anchor="end">r<tspan font-size="4.5" dy="1.5">s</tspan><tspan dy="-1.5"> = 0.227, p = 0.039</tspan></text>
<path d="M393.4 379.0H520.7V463.6" stroke="#000" stroke-width="0.9" fill="none"/>
<path d="M393.4 379.0V463.6H520.7" stroke="#000" stroke-width="1.1" fill="none"/>
<text x="389.30" y="380.80" font-family='"Liberation Sans", sans-serif' font-size="6.1" stroke="#000" stroke-width="0.25" class="tl" text-anchor="end">42</text>
<text x="389.30" y="397.70" font-family='"Liberation Sans", sans-serif' font-size="6.1" stroke="#000" stroke-width="0.25" class="tl" text-anchor="end">40</text>
<text x="389.30" y="414.60" font-family='"Liberation Sans", sans-serif' font-size="6.1" stroke="#000" stroke-width="0.25" class="tl" text-anchor="end">38</text>
<text x="389.30" y="431.60" font-family='"Liberation Sans", sans-serif' font-size="6.1" stroke="#000" stroke-width="0.25" class="tl" text-anchor="end">36</text>
<text x="389.30" y="448.50" font-family='"Liberation Sans", sans-serif' font-size="6.1" stroke="#000" stroke-width="0.25" class="tl" text-anchor="end">34</text>
<text x="389.30" y="465.40" font-family='"Liberation Sans", sans-serif' font-size="6.1" stroke="#000" stroke-width="0.25" class="tl" text-anchor="end">32</text>
<text x="393.40" y="474.20" font-family='"Liberation Sans", sans-serif' font-size="6.1" stroke="#000" stroke-width="0.25" class="tl" text-anchor="middle">0.0</text>
<text x="418.90" y="474.20" font-family='"Liberation Sans", sans-serif' font-size="6.1" stroke="#000" stroke-width="0.25" class="tl" text-anchor="middle">0.2</text>
<text x="444.30" y="474.20" font-family='"Liberation Sans", sans-serif' font-size="6.1" stroke="#000" stroke-width="0.25" class="tl" text-anchor="middle">0.4</text>
<text x="469.80" y="474.20" font-family='"Liberation Sans", sans-serif' font-size="6.1" stroke="#000" stroke-width="0.25" class="tl" text-anchor="middle">0.6</text>
<text x="495.20" y="474.20" font-family='"Liberation Sans", sans-serif' font-size="6.1" stroke="#000" stroke-width="0.25" class="tl" text-anchor="middle">0.8</text>
<text x="520.70" y="474.20" font-family='"Liberation Sans", sans-serif' font-size="6.1" stroke="#000" stroke-width="0.25" class="tl" text-anchor="middle">1.0</text>
<path d="M390.40 379.00H393.4M390.40 395.90H393.4M390.40 412.80H393.4M390.40 429.80H393.4M390.40 446.70H393.4M390.40 463.60H393.4M393.40 463.6V466.60M418.90 463.6V466.60M444.30 463.6V466.60M469.80 463.6V466.60M495.20 463.6V466.60M520.70 463.6V466.60" stroke="#000" stroke-width="0.8"/>
<line x1="409.0" y1="417.8" x2="508.3" y2="405.4" stroke="#dc2a2a" stroke-width="1.05"/>
<circle cx="409.0" cy="415.5" r="1.8" fill="#0000f0"/>
<circle cx="409.0" cy="420.4" r="1.8" fill="#0000f0"/>
<circle cx="410.2" cy="446.8" r="1.8" fill="#0000f0"/>
<circle cx="417.9" cy="418.0" r="1.8" fill="#0000f0"/>
<circle cx="423.3" cy="424.8" r="1.8" fill="#0000f0"/>
<circle cx="431.4" cy="407.0" r="1.8" fill="#0000f0"/>
<circle cx="431.9" cy="411.3" r="1.8" fill="#0000f0"/>
<circle cx="431.9" cy="412.9" r="1.8" fill="#0000f0"/>
<circle cx="433.1" cy="405.4" r="1.8" fill="#0000f0"/>
<circle cx="434.7" cy="407.0" r="1.8" fill="#0000f0"/>
<circle cx="434.7" cy="411.7" r="1.8" fill="#0000f0"/>
<circle cx="440.5" cy="395.8" r="1.8" fill="#0000f0"/>
<circle cx="445.9" cy="412.9" r="1.8" fill="#0000f0"/>
<circle cx="447.1" cy="421.3" r="1.8" fill="#0000f0"/>
<circle cx="450.6" cy="410.5" r="1.8" fill="#0000f0"/>
<circle cx="452.2" cy="411.7" r="1.8" fill="#0000f0"/>
<circle cx="473.9" cy="410.5" r="1.8" fill="#0000f0"/>
<circle cx="489.1" cy="404.2" r="1.8" fill="#0000f0"/>
<circle cx="494.3" cy="402.6" r="1.8" fill="#0000f0"/>
<circle cx="503.1" cy="434.6" r="1.8" fill="#0000f0"/>
<circle cx="508.3" cy="395.8" r="1.8" fill="#0000f0"/>
<text x="457.10" y="485.50" font-family='"Liberation Sans", sans-serif' font-weight="bold" font-size="7" text-anchor="middle">MC</text>
<text transform="translate(378.30,421.10) rotate(-90)" font-family='"Liberation Sans", sans-serif' font-weight="bold" font-size="7" text-anchor="middle">GA at delivery</text>
<text x="517.80" y="387.40" font-family='"Liberation Sans", sans-serif' font-size="7" text-anchor="end">r<tspan font-size="4.5" dy="1.5">s</tspan><tspan dy="-1.5"> = 0.477, p = 0.025</tspan></text>
<path d="M555.4 380.2H680.5V463.1" stroke="#000" stroke-width="0.9" fill="none"/>
<path d="M555.4 380.2V463.1H680.5" stroke="#000" stroke-width="1.1" fill="none"/>
<text x="551.30" y="382.00" font-family='"Liberation Sans", sans-serif' font-size="6.1" stroke="#000" stroke-width="0.25" class="tl" text-anchor="end">42</text>
<text x="551.30" y="398.60" font-family='"Liberation Sans", sans-serif' font-size="6.1" stroke="#000" stroke-width="0.25" class="tl" text-anchor="end">40</text>
<text x="551.30" y="415.20" font-family='"Liberation Sans", sans-serif' font-size="6.1" stroke="#000" stroke-width="0.25" class="tl" text-anchor="end">38</text>
<text x="551.30" y="431.70" font-family='"Liberation Sans", sans-serif' font-size="6.1" stroke="#000" stroke-width="0.25" class="tl" text-anchor="end">36</text>
<text x="551.30" y="448.30" font-family='"Liberation Sans", sans-serif' font-size="6.1" stroke="#000" stroke-width="0.25" class="tl" text-anchor="end">34</text>
<text x="551.30" y="464.90" font-family='"Liberation Sans", sans-serif' font-size="6.1" stroke="#000" stroke-width="0.25" class="tl" text-anchor="end">32</text>
<text x="555.40" y="473.70" font-family='"Liberation Sans", sans-serif' font-size="6.1" stroke="#000" stroke-width="0.25" class="tl" text-anchor="middle">0.0</text>
<text x="597.10" y="473.70" font-family='"Liberation Sans", sans-serif' font-size="6.1" stroke="#000" stroke-width="0.25" class="tl" text-anchor="middle">0.2</text>
<text x="638.80" y="473.70" font-family='"Liberation Sans", sans-serif' font-size="6.1" stroke="#000" stroke-width="0.25" class="tl" text-anchor="middle">0.4</text>
<text x="680.50" y="473.70" font-family='"Liberation Sans", sans-serif' font-size="6.1" stroke="#000" stroke-width="0.25" class="tl" text-anchor="middle">0.6</text>
<path d="M552.40 380.20H555.4M552.40 396.80H555.4M552.40 413.40H555.4M552.40 429.90H555.4M552.40 446.50H555.4M552.40 463.10H555.4M555.40 463.1V466.10M597.10 463.1V466.10M638.80 463.1V466.10M680.50 463.1V466.10M559.57 463.1V464.70M563.74 463.1V464.70M567.91 463.1V464.70M572.08 463.1V464.70M576.25 463.1V464.70M580.42 463.1V464.70M584.59 463.1V464.70M588.76 463.1V464.70M592.93 463.1V464.70M601.27 463.1V464.70M605.44 463.1V464.70M609.61 463.1V464.70M613.78 463.1V464.70M617.95 463.1V464.70M622.12 463.1V464.70M626.29 463.1V464.70M630.46 463.1V464.70M634.63 463.1V464.70M642.97 463.1V464.70M647.14 463.1V464.70M651.31 463.1V464.70M655.48 463.1V464.70M659.65 463.1V464.70M663.82 463.1V464.70M667.99 463.1V464.70M672.16 463.1V464.70M676.33 463.1V464.70" stroke="#000" stroke-width="0.8"/>
<line x1="570.5" y1="429.0" x2="666.1" y2="400.9" stroke="#dc2a2a" stroke-width="1.05"/>
<circle cx="570.5" cy="425.0" r="1.8" fill="#0000f0"/>
<circle cx="589.1" cy="418.5" r="1.8" fill="#0000f0"/>
<circle cx="591.0" cy="410.9" r="1.8" fill="#0000f0"/>
<circle cx="589.1" cy="446.4" r="1.8" fill="#0000f0"/>
<circle cx="595.3" cy="434.7" r="1.8" fill="#0000f0"/>
<circle cx="605.8" cy="410.9" r="1.8" fill="#0000f0"/>
<circle cx="609.9" cy="415.9" r="1.8" fill="#0000f0"/>
<circle cx="609.9" cy="420.4" r="1.8" fill="#0000f0"/>
<circle cx="612.2" cy="411.7" r="1.8" fill="#0000f0"/>
<circle cx="614.1" cy="412.3" r="1.8" fill="#0000f0"/>
<circle cx="626.6" cy="412.3" r="1.8" fill="#0000f0"/>
<circle cx="630.4" cy="406.2" r="1.8" fill="#0000f0"/>
<circle cx="632.7" cy="413.4" r="1.8" fill="#0000f0"/>
<circle cx="632.7" cy="421.6" r="1.8" fill="#0000f0"/>
<circle cx="635.0" cy="404.7" r="1.8" fill="#0000f0"/>
<circle cx="640.9" cy="412.5" r="1.8" fill="#0000f0"/>
<circle cx="643.3" cy="396.5" r="1.8" fill="#0000f0"/>
<circle cx="647.3" cy="396.5" r="1.8" fill="#0000f0"/>
<circle cx="649.4" cy="403.3" r="1.8" fill="#0000f0"/>
<circle cx="649.4" cy="413.4" r="1.8" fill="#0000f0"/>
<circle cx="657.6" cy="407.3" r="1.8" fill="#0000f0"/>
<circle cx="666.1" cy="407.3" r="1.8" fill="#0000f0"/>
<text x="618.40" y="484.00" font-family='"Liberation Sans", sans-serif' font-weight="bold" font-size="7" text-anchor="middle">PCC</text>
<text transform="translate(541.00,421.60) rotate(-90)" font-family='"Liberation Sans", sans-serif' font-weight="bold" font-size="7" text-anchor="middle">GA at delivery</text>
<text x="677.00" y="388.50" font-family='"Liberation Sans", sans-serif' font-size="7" text-anchor="end">r<tspan font-size="4.5" dy="1.5">s</tspan><tspan dy="-1.5"> = 0.640, p = 0.001</tspan></text>
<path d="M73.0 492.3H198.7V576.6" stroke="#000" stroke-width="0.9" fill="none"/>
<path d="M73.0 492.3V576.6H198.7" stroke="#000" stroke-width="1.1" fill="none"/>
<text x="68.90" y="494.10" font-family='"Liberation Sans", sans-serif' font-size="6.1" stroke="#000" stroke-width="0.25" class="tl" text-anchor="end">150</text>
<text x="68.90" y="522.20" font-family='"Liberation Sans", sans-serif' font-size="6.1" stroke="#000" stroke-width="0.25" class="tl" text-anchor="end">100</text>
<text x="68.90" y="550.30" font-family='"Liberation Sans", sans-serif' font-size="6.1" stroke="#000" stroke-width="0.25" class="tl" text-anchor="end">50</text>
<text x="68.90" y="578.40" font-family='"Liberation Sans", sans-serif' font-size="6.1" stroke="#000" stroke-width="0.25" class="tl" text-anchor="end">0</text>
<text x="73.00" y="587.20" font-family='"Liberation Sans", sans-serif' font-size="6.1" stroke="#000" stroke-width="0.25" class="tl" text-anchor="middle">0</text>
<text x="98.10" y="587.20" font-family='"Liberation Sans", sans-serif' font-size="6.1" stroke="#000" stroke-width="0.25" class="tl" text-anchor="middle">1×10<tspan font-size="3.8" dy="-1.9">5</tspan></text>
<text x="123.30" y="587.20" font-family='"Liberation Sans", sans-serif' font-size="6.1" stroke="#000" stroke-width="0.25" class="tl" text-anchor="middle">2×10<tspan font-size="3.8" dy="-1.9">5</tspan></text>
<text x="148.40" y="587.20" font-family='"Liberation Sans", sans-serif' font-size="6.1" stroke="#000" stroke-width="0.25" class="tl" text-anchor="middle">3×10<tspan font-size="3.8" dy="-1.9">5</tspan></text>
<text x="173.60" y="587.20" font-family='"Liberation Sans", sans-serif' font-size="6.1" stroke="#000" stroke-width="0.25" class="tl" text-anchor="middle">4×10<tspan font-size="3.8" dy="-1.9">5</tspan></text>
<text x="198.70" y="587.20" font-family='"Liberation Sans", sans-serif' font-size="6.1" stroke="#000" stroke-width="0.25" class="tl" text-anchor="middle">5×10<tspan font-size="3.8" dy="-1.9">5</tspan></text>
<path d="M70.00 492.30H73.0M70.00 520.40H73.0M70.00 548.50H73.0M70.00 576.60H73.0M73.00 576.6V579.60M98.10 576.6V579.60M123.30 576.6V579.60M148.40 576.6V579.60M173.60 576.6V579.60M198.70 576.6V579.60" stroke="#000" stroke-width="0.8"/>
<line x1="93.1" y1="533.5" x2="174.4" y2="524.8" stroke="#dc2a2a" stroke-width="1.05"/>
<circle cx="93.1" cy="540.8" r="1.8" fill="#0000f0"/>
<circle cx="94.0" cy="542.3" r="1.8" fill="#0000f0"/>
<circle cx="96.3" cy="538.2" r="1.8" fill="#0000f0"/>
<circle cx="101.9" cy="535.2" r="1.8" fill="#0000f0"/>
<circle cx="105.3" cy="530.4" r="1.8" fill="#0000f0"/>
<circle cx="105.6" cy="539.5" r="1.8" fill="#0000f0"/>
<circle cx="106.2" cy="534.8" r="1.8" fill="#0000f0"/>
<circle cx="107.5" cy="532.4" r="1.8" fill="#0000f0"/>
<circle cx="108.1" cy="539.0" r="1.8" fill="#0000f0"/>
<circle cx="108.4" cy="527.4" r="1.8" fill="#0000f0"/>
<circle cx="109.0" cy="525.5" r="1.8" fill="#0000f0"/>
<circle cx="109.4" cy="524.6" r="1.8" fill="#0000f0"/>
<circle cx="110.3" cy="540.8" r="1.8" fill="#0000f0"/>
<circle cx="111.2" cy="533.0" r="1.8" fill="#0000f0"/>
<circle cx="111.6" cy="534.5" r="1.8" fill="#0000f0"/>
<circle cx="113.7" cy="516.5" r="1.8" fill="#0000f0"/>
<circle cx="114.6" cy="540.4" r="1.8" fill="#0000f0"/>
<circle cx="115.3" cy="520.3" r="1.8" fill="#0000f0"/>
<circle cx="116.1" cy="519.0" r="1.8" fill="#0000f0"/>
<circle cx="120.2" cy="505.9" r="1.8" fill="#0000f0"/>
<circle cx="122.8" cy="542.7" r="1.8" fill="#0000f0"/>
<circle cx="124.3" cy="532.0" r="1.8" fill="#0000f0"/>
<circle cx="124.7" cy="519.9" r="1.8" fill="#0000f0"/>
<circle cx="125.1" cy="525.5" r="1.8" fill="#0000f0"/>
<circle cx="126.2" cy="522.7" r="1.8" fill="#0000f0"/>
<circle cx="129.4" cy="545.5" r="1.8" fill="#0000f0"/>
<circle cx="130.5" cy="533.9" r="1.8" fill="#0000f0"/>
<circle cx="132.2" cy="528.7" r="1.8" fill="#0000f0"/>
<circle cx="135.5" cy="518.4" r="1.8" fill="#0000f0"/>
<circle cx="136.1" cy="524.6" r="1.8" fill="#0000f0"/>
<circle cx="140.4" cy="528.3" r="1.8" fill="#0000f0"/>
<circle cx="141.1" cy="525.5" r="1.8" fill="#0000f0"/>
<circle cx="141.1" cy="542.7" r="1.8" fill="#0000f0"/>
<circle cx="143.7" cy="526.1" r="1.8" fill="#0000f0"/>
<circle cx="143.9" cy="540.4" r="1.8" fill="#0000f0"/>
<circle cx="145.2" cy="539.5" r="1.8" fill="#0000f0"/>
<circle cx="152.0" cy="529.8" r="1.8" fill="#0000f0"/>
<circle cx="152.9" cy="525.9" r="1.8" fill="#0000f0"/>
<circle cx="154.8" cy="536.2" r="1.8" fill="#0000f0"/>
<circle cx="155.0" cy="507.2" r="1.8" fill="#0000f0"/>
<circle cx="158.7" cy="514.7" r="1.8" fill="#0000f0"/>
<circle cx="164.3" cy="523.3" r="1.8" fill="#0000f0"/>
<circle cx="165.8" cy="530.4" r="1.8" fill="#0000f0"/>
<circle cx="169.5" cy="536.0" r="1.8" fill="#0000f0"/>
<circle cx="173.6" cy="524.6" r="1.8" fill="#0000f0"/>
<circle cx="174.0" cy="526.1" r="1.8" fill="#0000f0"/>
<text x="135.80" y="597.50" font-family='"Liberation Sans", sans-serif' font-weight="bold" font-size="7" text-anchor="middle">CD42b</text>
<text transform="translate(53.90,534.60) rotate(-90)" font-family='"Liberation Sans", sans-serif' font-weight="bold" font-size="7" text-anchor="middle">DBP</text>
<text x="195.00" y="500.90" font-family='"Liberation Sans", sans-serif' font-size="7" text-anchor="end">r<tspan font-size="4.5" dy="1.5">s</tspan><tspan dy="-1.5"> = 0.299, p = 0.039</tspan></text>
<path d="M237.2 492.5H363.1V576.5" stroke="#000" stroke-width="0.9" fill="none"/>
<path d="M237.2 492.5V576.5H363.1" stroke="#000" stroke-width="1.1" fill="none"/>
<text x="233.10" y="493.70" font-family='"Liberation Sans", sans-serif' font-size="6.1" stroke="#000" stroke-width="0.25" class="tl" text-anchor="end">45</text>
<text x="233.10" y="514.70" font-family='"Liberation Sans", sans-serif' font-size="6.1" stroke="#000" stroke-width="0.25" class="tl" text-anchor="end">40</text>
<text x="233.10" y="535.80" font-family='"Liberation Sans", sans-serif' font-size="6.1" stroke="#000" stroke-width="0.25" class="tl" text-anchor="end">35</text>
<text x="233.10" y="556.80" font-family='"Liberation Sans", sans-serif' font-size="6.1" stroke="#000" stroke-width="0.25" class="tl" text-anchor="end">30</text>
<text x="233.10" y="577.90" font-family='"Liberation Sans", sans-serif' font-size="6.1" stroke="#000" stroke-width="0.25" class="tl" text-anchor="end">25</text>
<text x="237.20" y="587.10" font-family='"Liberation Sans", sans-serif' font-size="6.1" stroke="#000" stroke-width="0.25" class="tl" text-anchor="middle">0</text>
<text x="268.70" y="587.10" font-family='"Liberation Sans", sans-serif' font-size="6.1" stroke="#000" stroke-width="0.25" class="tl" text-anchor="middle">1×10<tspan font-size="3.8" dy="-1.9">5</tspan></text>
<text x="300.20" y="587.10" font-family='"Liberation Sans", sans-serif' font-size="6.1" stroke="#000" stroke-width="0.25" class="tl" text-anchor="middle">2×10<tspan font-size="3.8" dy="-1.9">5</tspan></text>
<text x="331.60" y="587.10" font-family='"Liberation Sans", sans-serif' font-size="6.1" stroke="#000" stroke-width="0.25" class="tl" text-anchor="middle">3×10<tspan font-size="3.8" dy="-1.9">5</tspan></text>
<text x="363.10" y="587.10" font-family='"Liberation Sans", sans-serif' font-size="6.1" stroke="#000" stroke-width="0.25" class="tl" text-anchor="middle">4×10<tspan font-size="3.8" dy="-1.9">5</tspan></text>
<path d="M234.20 491.90H237.2M234.20 512.90H237.2M234.20 534.00H237.2M234.20 555.00H237.2M234.20 576.10H237.2M237.20 576.5V579.50M268.70 576.5V579.50M300.20 576.5V579.50M331.60 576.5V579.50M363.10 576.5V579.50" stroke="#000" stroke-width="0.8"/>
<line x1="271.5" y1="550.7" x2="342.7" y2="515.0" stroke="#dc2a2a" stroke-width="1.05"/>
<circle cx="271.5" cy="563.6" r="1.8" fill="#0000f0"/>
<circle cx="275.0" cy="557.4" r="1.8" fill="#0000f0"/>
<circle cx="276.2" cy="542.5" r="1.8" fill="#0000f0"/>
<circle cx="279.4" cy="567.6" r="1.8" fill="#0000f0"/>
<circle cx="286.6" cy="521.0" r="1.8" fill="#0000f0"/>
<circle cx="290.1" cy="528.9" r="1.8" fill="#0000f0"/>
<circle cx="297.5" cy="543.3" r="1.8" fill="#0000f0"/>
<circle cx="299.3" cy="523.9" r="1.8" fill="#0000f0"/>
<circle cx="301.8" cy="525.7" r="1.8" fill="#0000f0"/>
<circle cx="309.2" cy="537.1" r="1.8" fill="#0000f0"/>
<circle cx="334.0" cy="513.0" r="1.8" fill="#0000f0"/>
<circle cx="342.7" cy="529.9" r="1.8" fill="#0000f0"/>
<text x="299.30" y="597.20" font-family='"Liberation Sans", sans-serif' font-weight="bold" font-size="7" text-anchor="middle">CD62P</text>
<text transform="translate(222.90,534.10) rotate(-90)" font-family='"Liberation Sans", sans-serif' font-weight="bold" font-size="7" text-anchor="middle">GA at delivery</text>
<text x="360.30" y="500.60" font-family='"Liberation Sans", sans-serif' font-size="7" text-anchor="end">r<tspan font-size="4.5" dy="1.5">s</tspan><tspan dy="-1.5"> = 0.615, p = 0.033</tspan></text>
<path d="M397.2 492.4H522.6V576.1" stroke="#000" stroke-width="0.9" fill="none"/>
<path d="M397.2 492.4V576.1H522.6" stroke="#000" stroke-width="1.1" fill="none"/>
<text x="393.10" y="494.20" font-family='"Liberation Sans", sans-serif' font-size="6.1" stroke="#000" stroke-width="0.25" class="tl" text-anchor="end">180</text>
<text x="393.10" y="515.10" font-family='"Liberation Sans", sans-serif' font-size="6.1" stroke="#000" stroke-width="0.25" class="tl" text-anchor="end">160</text>
<text x="393.10" y="536.00" font-family='"Liberation Sans", sans-serif' font-size="6.1" stroke="#000" stroke-width="0.25" class="tl" text-anchor="end">140</text>
<text x="393.10" y="557.00" font-family='"Liberation Sans", sans-serif' font-size="6.1" stroke="#000" stroke-width="0.25" class="tl" text-anchor="end">120</text>
<text x="393.10" y="577.90" font-family='"Liberation Sans", sans-serif' font-size="6.1" stroke="#000" stroke-width="0.25" class="tl" text-anchor="end">100</text>
<text x="397.20" y="586.70" font-family='"Liberation Sans", sans-serif' font-size="6.1" stroke="#000" stroke-width="0.25" class="tl" text-anchor="middle">0.4</text>
<text x="422.30" y="586.70" font-family='"Liberation Sans", sans-serif' font-size="6.1" stroke="#000" stroke-width="0.25" class="tl" text-anchor="middle">0.5</text>
<text x="447.30" y="586.70" font-family='"Liberation Sans", sans-serif' font-size="6.1" stroke="#000" stroke-width="0.25" class="tl" text-anchor="middle">0.6</text>
<text x="472.40" y="586.70" font-family='"Liberation Sans", sans-serif' font-size="6.1" stroke="#000" stroke-width="0.25" class="tl" text-anchor="middle">0.7</text>
<text x="497.50" y="586.70" font-family='"Liberation Sans", sans-serif' font-size="6.1" stroke="#000" stroke-width="0.25" class="tl" text-anchor="middle">0.8</text>
<text x="522.60" y="586.70" font-family='"Liberation Sans", sans-serif' font-size="6.1" stroke="#000" stroke-width="0.25" class="tl" text-anchor="middle">0.9</text>
<path d="M394.20 492.40H397.2M394.20 513.30H397.2M394.20 534.20H397.2M394.20 555.20H397.2M394.20 576.10H397.2M397.20 576.1V579.10M422.30 576.1V579.10M447.30 576.1V579.10M472.40 576.1V579.10M497.50 576.1V579.10M522.60 576.1V579.10" stroke="#000" stroke-width="0.8"/>
<line x1="424.5" y1="548.5" x2="509.2" y2="510.3" stroke="#dc2a2a" stroke-width="1.05"/>
<circle cx="424.5" cy="555.0" r="1.8" fill="#0000f0"/>
<circle cx="429.5" cy="555.0" r="1.8" fill="#0000f0"/>
<circle cx="432.2" cy="555.0" r="1.8" fill="#0000f0"/>
<circle cx="434.5" cy="528.2" r="1.8" fill="#0000f0"/>
<circle cx="439.4" cy="539.6" r="1.8" fill="#0000f0"/>
<circle cx="456.8" cy="530.1" r="1.8" fill="#0000f0"/>
<circle cx="459.3" cy="541.6" r="1.8" fill="#0000f0"/>
<circle cx="464.5" cy="499.1" r="1.8" fill="#0000f0"/>
<circle cx="464.5" cy="534.1" r="1.8" fill="#0000f0"/>
<circle cx="471.9" cy="526.9" r="1.8" fill="#0000f0"/>
<circle cx="479.4" cy="537.3" r="1.8" fill="#0000f0"/>
<circle cx="509.2" cy="513.5" r="1.8" fill="#0000f0"/>
<text x="459.80" y="597.20" font-family='"Liberation Sans", sans-serif' font-weight="bold" font-size="7" text-anchor="middle">MC</text>
<text transform="translate(377.90,534.10) rotate(-90)" font-family='"Liberation Sans", sans-serif' font-weight="bold" font-size="7" text-anchor="middle">SBP</text>
<text x="514.60" y="499.90" font-family='"Liberation Sans", sans-serif' font-size="7" text-anchor="end">r<tspan font-size="4.5" dy="1.5">s</tspan><tspan dy="-1.5"> = 0.716,</tspan></text>
<text x="514.00" y="508.10" font-family='"Liberation Sans", sans-serif' font-size="7" text-anchor="end">p = 0.009</text>
</svg>
</body></html>
